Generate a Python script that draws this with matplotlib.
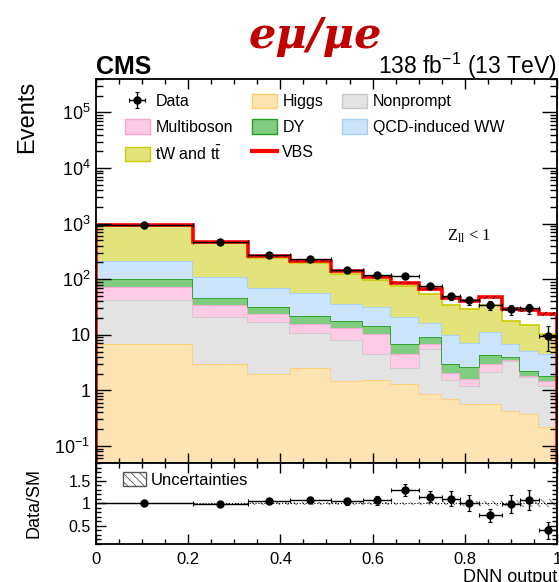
import numpy as np
import matplotlib
matplotlib.use('Agg')
import matplotlib.pyplot as plt
from matplotlib.patches import Patch
from matplotlib.lines import Line2D
from matplotlib.ticker import MultipleLocator, LogLocator, FuncFormatter, NullFormatter

plt.rcParams['font.family'] = ['Liberation Sans', 'DejaVu Sans']
plt.rcParams['mathtext.default'] = 'regular'
plt.rcParams['hatch.linewidth'] = 0.6

# DNN output binning
edges = [0, 0.21, 0.33, 0.42, 0.51, 0.58, 0.64, 0.70, 0.75, 0.79, 0.83, 0.88, 0.92, 0.96, 1.0]

# expected events per process (stack order, bottom -> top)
higgs = [6.7, 3.0, 2.0, 2.55, 1.5, 1.55, 1.28, 0.87, 0.70, 0.56, 0.57, 0.42, 0.38, 0.22]
nonprompt = [36, 18.3, 15.3, 8.4, 6.4, 2.9, 1.27, 4.7, 0.85, 0.63, 1.55, 2.93, 1.35, 1.0]
multiboson = [31, 13.4, 5.9, 4.4, 5.3, 6.0, 2.0, 1.3, 0.52, 0.43, 0.88, 0.2, 0.12, 0.23]
dy = [29, 10.8, 8.1, 6.3, 4.4, 3.9, 2.15, 2.16, 0.86, 0.99, 1.36, 0.4, 0.36, 0.34]
qcd_ww = [108, 64.5, 37.7, 35.4, 17.9, 17.0, 13.8, 7.5, 6.8, 4.6, 6.7, 2.75, 3.0, 2.77]
tw_tt = [684, 335, 174, 137, 86.5, 66.2, 53.5, 38, 25, 22.2, 22.6, 10.9, 9.9, 5.95]
vbs = [50, 25, 19, 18, 17, 12.5, 12, 11.4, 10.3, 11.6, 13.9, 11.8, 13.1, 13.5]

# observed data
data = [945, 461, 275, 227, 145, 118, 112, 76, 49.5, 41.4, 34.7, 28.8, 30.2, 9.6]
data_err = [31, 21, 17, 15, 12, 11, 11, 8.7, 7.5, 7.0, 6.5, 6.0, 6.2, 4.5]

# relative uncertainty of the prediction
unc = [0.01, 0.01, 0.03, 0.03, 0.03, 0.035, 0.035, 0.04, 0.045, 0.05, 0.06, 0.07, 0.08, 0.09]

stack = [
    ('Higgs', higgs, '#ffe4b3', '#ffcc70'),
    ('Nonprompt', nonprompt, '#e3e3e3', '#c8c8c8'),
    ('Multiboson', multiboson, '#ffcae6', '#f4a6d0'),
    ('DY', dy, '#80cc80', '#22a022'),
    ('QCD-induced WW', qcd_ww, '#cce4fb', '#a6cff2'),
    (r'tW and t$\bar{t}$', tw_tt, '#e3e37c', '#cccc00'),
]

edges = np.array(edges)
centers = 0.5 * (edges[1:] + edges[:-1])
halfw = 0.5 * np.diff(edges)

fig = plt.figure(figsize=(5.59, 5.82), dpi=100)
ax = fig.add_axes([0.1717, 0.2050, 0.8247, 0.6593])
rax = fig.add_axes([0.1717, 0.0653, 0.8247, 0.1397], sharex=ax)

# stacked backgrounds
bottom = np.full(len(centers), 1e-4)
handles = {}
for name, vals, fc, ec in stack:
    top = bottom + np.array(vals)
    ax.stairs(top, edges, baseline=bottom, fill=True, color=fc, lw=0)
    ax.stairs(top, edges, color=ec, lw=1.2)
    handles[name] = Patch(facecolor=fc, edgecolor=ec, lw=1)
    bottom = top

total = bottom + np.array(vbs)
ax.stairs(total, edges, color='#ff0000', lw=2.6)
ax.stairs(total * (1 + np.array(unc)), edges, baseline=total * (1 - np.array(unc)),
          fill=True, facecolor='none', edgecolor='k', hatch='////', lw=0)

data = np.array(data)
data_err = np.array(data_err)
dh = ax.errorbar(centers, data, yerr=data_err, xerr=halfw, fmt='o', color='k',
                 ms=5, lw=1, capsize=1.5, capthick=0.8)

ax.set_yscale('log')
ax.set_ylim(0.05, 4e5)
ax.set_xlim(0, 1)

def logfmt(v, pos):
    k = int(round(np.log10(v)))
    if k == 0:
        return '1'
    if k == 1:
        return '10'
    return r'$10^{%d}$' % k

ax.yaxis.set_major_locator(LogLocator(base=10, numticks=20))
ax.yaxis.set_minor_locator(LogLocator(base=10, subs=np.arange(2, 10), numticks=20))
ax.yaxis.set_major_formatter(FuncFormatter(logfmt))
ax.yaxis.set_minor_formatter(NullFormatter())
ax.xaxis.set_major_locator(MultipleLocator(0.2))
ax.xaxis.set_minor_locator(MultipleLocator(0.05))
ax.tick_params(axis='both', which='both', direction='in', top=True, right=True, width=1)
ax.tick_params(axis='y', which='major', length=10.5, labelsize=13, pad=4)
ax.tick_params(axis='y', which='minor', length=5)
ax.tick_params(axis='x', which='major', length=7)
ax.tick_params(axis='x', which='minor', length=3.6)
ax.tick_params(axis='x', labelbottom=False)
for s in ax.spines.values():
    s.set_linewidth(1.3)

# legend, rows go Data/Higgs/Nonprompt etc. (ncol fills column-wise)
vbs_h = Line2D([], [], color='#ff0000', lw=3)
leg_h = [dh, handles['Multiboson'], handles[r'tW and t$\bar{t}$'],
         handles['Higgs'], handles['DY'], vbs_h,
         handles['Nonprompt'], handles['QCD-induced WW']]
leg_l = ['Data', 'Multiboson', r'tW and t$\bar{t}$',
         'Higgs', 'DY', 'VBS',
         'Nonprompt', 'QCD-induced WW']
ax.legend(leg_h, leg_l, ncol=3, loc='upper left', bbox_to_anchor=(0.063, 0.962),
          frameon=False, fontsize=11.5, handlelength=1.55, handleheight=1.05,
          handletextpad=0.35, columnspacing=1.2, labelspacing=0.6,
          borderaxespad=0, borderpad=0)

ax.text(0.761, 0.59, r'Z$_{\mathregular{ll}}$ < 1', transform=ax.transAxes,
        family=['Liberation Serif'], fontsize=12, va='center', ha='left')

# ratio panel
ratio = data / total
ratio_err = data_err / total
rax.stairs(1 + np.array(unc), edges, baseline=1 - np.array(unc), fill=True,
           facecolor='none', edgecolor='#666666', hatch='\\\\\\\\', lw=0)
rax.axhline(1, color='k', lw=0.8, ls=':')
rax.errorbar(centers, ratio, yerr=ratio_err, xerr=halfw, fmt='o', color='k',
             ms=5, lw=1, capsize=1.5, capthick=0.8)
rax.set_ylim(0.09, 1.91)
rax.yaxis.set_major_locator(MultipleLocator(0.5))
rax.yaxis.set_minor_locator(MultipleLocator(0.1))
rax.yaxis.set_major_formatter(FuncFormatter(lambda v, p: '%g' % v))
rax.xaxis.set_major_formatter(FuncFormatter(lambda v, p: '%g' % v))
rax.tick_params(axis='both', which='both', direction='in', top=True, right=True, width=1)
rax.tick_params(axis='both', which='major', length=7, labelsize=12)
rax.tick_params(axis='y', which='major', labelsize=11.5)
rax.tick_params(axis='both', which='minor', length=3.6)
rax.tick_params(axis='x', pad=6)
for s in rax.spines.values():
    s.set_linewidth(1.3)
rax.legend([Patch(facecolor='white', edgecolor='#555555', hatch='\\\\\\\\', lw=1)],
           ['Uncertainties'], loc='upper left', bbox_to_anchor=(0.058, 0.88),
           frameon=False, fontsize=12, handlelength=1.4, handleheight=0.9,
           handletextpad=0.3, borderaxespad=0, borderpad=0)

rax.set_xlabel('DNN output', fontsize=13, loc='right', labelpad=1)
rax.set_ylabel('Data/SM', fontsize=13)
rax.yaxis.set_label_coords(-0.117, 0.5)
fig.text(27 / 559, 1 - 81 / 582, 'Events', rotation=90, ha='center', va='top', fontsize=17)

fig.text(0.1717, 0.8729, 'CMS', fontsize=18, weight='bold', va='baseline', ha='left')
fig.text(0.9964, 0.8729, r'138 fb$^{-1}$ (13 TeV)', fontsize=16.5, va='baseline', ha='right')
fig.text(0.5635, 0.938, 'eμ/μe', family=['DejaVu Serif'], style='italic', weight='bold',
         color='#c00000', fontsize=31, ha='center', va='center')

fig.savefig('out.png', dpi=100)
